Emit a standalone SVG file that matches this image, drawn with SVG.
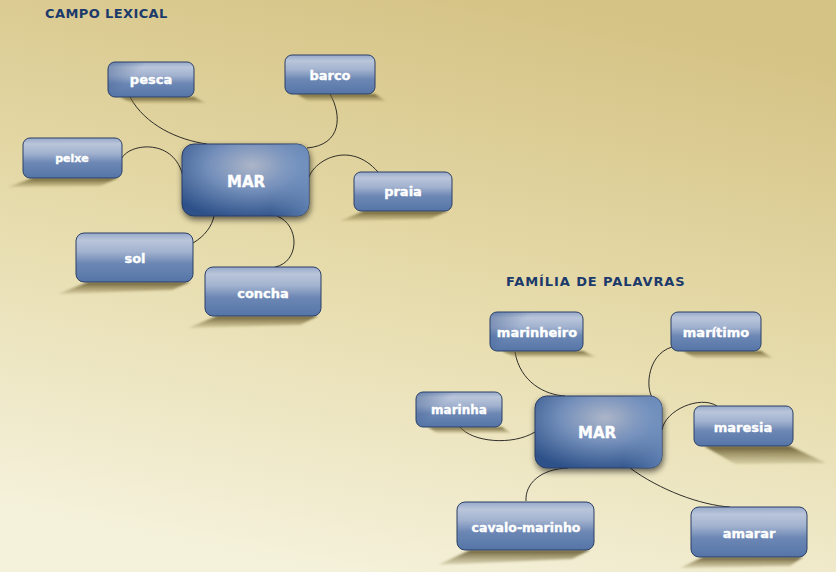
<svg xmlns="http://www.w3.org/2000/svg" width="836" height="572" viewBox="0 0 836 572">
<defs>
<linearGradient id="bg" x1="0.65" y1="0" x2="0.35" y2="1">
<stop offset="0" stop-color="#d5c385"/>
<stop offset="0.5" stop-color="#e6dbab"/>
<stop offset="1" stop-color="#f5f2dc"/>
</linearGradient>
<linearGradient id="nodeG" x1="0" y1="0" x2="0" y2="1">
<stop offset="0" stop-color="#97a9c9"/>
<stop offset="0.15" stop-color="#b9c5da"/>
<stop offset="0.38" stop-color="#a2b2cf"/>
<stop offset="0.62" stop-color="#6c87b4"/>
<stop offset="1" stop-color="#5575a7"/>
</linearGradient>
<linearGradient id="nodeL" x1="0" y1="0" x2="1" y2="0.4">
<stop offset="0" stop-color="#1f427c" stop-opacity="0.45"/>
<stop offset="0.4" stop-color="#1f427c" stop-opacity="0"/>
</linearGradient>
<radialGradient id="marG" cx="0.55" cy="0.3" r="0.75">
<stop offset="0" stop-color="#acb5c8"/>
<stop offset="0.45" stop-color="#7590bb"/>
<stop offset="1" stop-color="#2d5189"/>
</radialGradient>
<linearGradient id="marR" x1="0" y1="0" x2="1" y2="0">
<stop offset="0.7" stop-color="#7c9bc8" stop-opacity="0"/>
<stop offset="1" stop-color="#7c9bc8" stop-opacity="0.6"/>
</linearGradient>
<linearGradient id="shG" x1="0" y1="0" x2="0" y2="1">
<stop offset="0" stop-color="#5a4e24" stop-opacity="0.9"/>
<stop offset="1" stop-color="#8a7c48" stop-opacity="0.2"/>
</linearGradient>
<filter id="blur" x="-20%" y="-50%" width="140%" height="200%">
<feGaussianBlur stdDeviation="1.1"/>
</filter>
<filter id="drop" x="-20%" y="-20%" width="140%" height="150%">
<feGaussianBlur in="SourceAlpha" stdDeviation="3"/>
<feOffset dx="1" dy="3" result="b"/>
<feComponentTransfer><feFuncA type="linear" slope="0.6"/></feComponentTransfer>
<feMerge><feMergeNode/><feMergeNode in="SourceGraphic"/></feMerge>
</filter>
</defs>
<style>
.node{fill:url(#nodeG);stroke:#2b3f66;stroke-width:1}
.nodeL{fill:url(#nodeL);stroke:none}
.mar{fill:url(#marG);stroke:#2a3d62;stroke-width:1}
.marR{fill:url(#marR);stroke:none}
.sh{fill:url(#shG);filter:url(#blur)}
.t{font-family:"DejaVu Sans","Liberation Sans",sans-serif;font-weight:bold;fill:#ffffff;stroke:#ffffff;stroke-width:0.35;text-anchor:middle}
.title{font-family:"DejaVu Sans","Liberation Sans",sans-serif;font-weight:bold;fill:#1b3a6b;font-size:13px}
.c{fill:none;stroke:#1a1a1a;stroke-width:0.9}
</style>
<rect width="836" height="572" fill="url(#bg)"/>
<text class="title" x="45" y="18" letter-spacing="0.4">CAMPO LEXICAL</text>
<text class="title" x="506" y="286" letter-spacing="0.9">FAMÍLIA DE PALAVRAS</text>
<g id="connectors">
<path class="c" d="M130,97 C145,125 178,140 207,144"/>
<path class="c" d="M330,94 C342,115 342,145 307,148"/>
<path class="c" d="M122,158 C130,143 175,138 183,177"/>
<path class="c" d="M309,177 C315,160 350,140 378,172"/>
<path class="c" d="M193,243 C205,236 212,226 214,216"/>
<path class="c" d="M277,216 C300,225 300,262 275,267"/>
<path class="c" d="M515,352 C520,382 545,395 565,396"/>
<path class="c" d="M672,347 C645,355 645,395 655,400"/>
<path class="c" d="M460,427 C472,442 512,446 535,432"/>
<path class="c" d="M662,430 C665,410 700,395 717,406"/>
<path class="c" d="M526,501 C525,484 540,469 568,468"/>
<path class="c" d="M630,468 C660,490 700,505 730,507"/>
</g>
<g id="pesca">
<polygon class="sh" points="120,97 194,97 206,103 132,103"/>
<rect class="node" x="108" y="62" width="86" height="35" rx="7"/>
<rect class="nodeL" x="108" y="62" width="86" height="35" rx="7"/>
<text class="t" x="151" y="84" font-size="13">pesca</text>
</g>
<g id="barco">
<polygon class="sh" points="297,94 375,94 386,101 308,101"/>
<rect class="node" x="285" y="55" width="90" height="39" rx="7"/>
<text class="t" x="330" y="80" font-size="13">barco</text>
</g>
<g id="peixe">
<polygon class="sh" points="33,178 118,178 100,186 8,187"/>
<rect class="node" x="23" y="138" width="99" height="40" rx="7"/>
<text class="t" x="72" y="162" font-size="11">peixe</text>
</g>
<g id="mar1">
<rect class="mar" x="182" y="144" width="127" height="72" rx="12" filter="url(#drop)"/>
<rect class="marR" x="182" y="144" width="127" height="72" rx="12"/>
<text class="t" x="246" y="187" font-size="15">MAR</text>
</g>
<g id="praia">
<polygon class="sh" points="364,211 448,211 430,219 340,221"/>
<rect class="node" x="354" y="172" width="98" height="39" rx="7"/>
<text class="t" x="403" y="196" font-size="13">praia</text>
</g>
<g id="sol">
<polygon class="sh" points="88,282 190,282 172,290 58,294"/>
<rect class="node" x="76" y="233" width="117" height="49" rx="8"/>
<text class="t" x="135" y="263" font-size="13">sol</text>
</g>
<g id="concha">
<polygon class="sh" points="217,316 318,316 300,325 188,328"/>
<rect class="node" x="205" y="267" width="116" height="49" rx="8"/>
<text class="t" x="263" y="298" font-size="13">concha</text>
</g>
<g id="marinheiro">
<polygon class="sh" points="502,351 583,351 596,357 515,357"/>
<rect class="node" x="490" y="312" width="93" height="39" rx="7"/>
<rect class="nodeL" x="490" y="312" width="93" height="39" rx="7"/>
<text class="t" x="537" y="337" font-size="13">marinheiro</text>
</g>
<g id="maritimo">
<polygon class="sh" points="683,351 761,351 773,358 695,358"/>
<rect class="node" x="671" y="312" width="90" height="39" rx="7"/>
<text class="t" x="716" y="337" font-size="13">marítimo</text>
</g>
<g id="marinha">
<polygon class="sh" points="428,427 502,427 511,433 437,433"/>
<rect class="node" x="416" y="392" width="86" height="35" rx="7"/>
<rect class="nodeL" x="416" y="392" width="86" height="35" rx="7"/>
<text class="t" x="459" y="414" font-size="12">marinha</text>
</g>
<g id="mar2">
<rect class="mar" x="535" y="396" width="127" height="72" rx="12" filter="url(#drop)"/>
<rect class="marR" x="535" y="396" width="127" height="72" rx="12"/>
<text class="t" x="597" y="438" font-size="15">MAR</text>
</g>
<g id="maresia">
<polygon class="sh" points="704,446 790,446 826,463 735,464"/>
<rect class="node" x="694" y="406" width="99" height="40" rx="7"/>
<text class="t" x="743" y="432" font-size="13">maresia</text>
</g>
<g id="cavalo-marinho">
<polygon class="sh" points="470,550 590,550 572,559 438,565"/>
<rect class="node" x="457" y="502" width="137" height="48" rx="8"/>
<text class="t" x="526" y="532" font-size="12.5">cavalo-marinho</text>
</g>
<g id="amarar">
<polygon class="sh" points="703,557 803,557 790,566 680,568"/>
<rect class="node" x="691" y="507" width="116" height="50" rx="8"/>
<text class="t" x="749" y="538" font-size="13">amarar</text>
</g>
</svg>
